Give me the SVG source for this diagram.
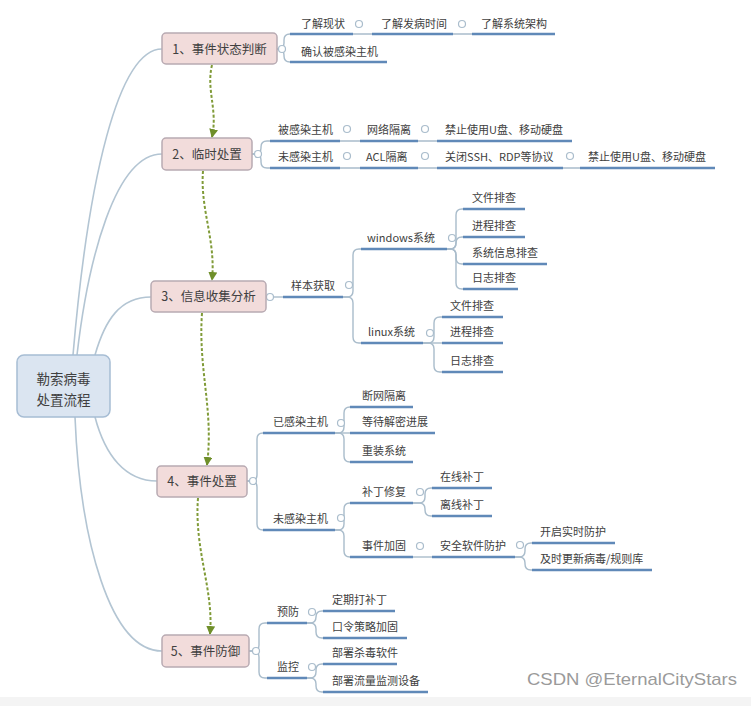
<svg xmlns="http://www.w3.org/2000/svg" width="751" height="706" viewBox="0 0 751 706">
<style>
.t{font-family:"Noto Sans CJK SC","Noto Sans",sans-serif;font-size:11px;fill:#404040}
.nt{font-family:"Noto Sans CJK SC","Noto Sans",sans-serif;font-size:12.5px;fill:#404040;text-anchor:middle}
.rt{font-family:"Noto Sans CJK SC","Noto Sans",sans-serif;font-size:13.5px;fill:#404040;text-anchor:middle}
.ul{stroke:#6089b8;stroke-width:2.4;fill:none}
.br{stroke:#a9bccb;stroke-width:1.4;fill:none}
.rc{stroke:#b3c5d3;stroke-width:1.6;fill:none}
.h{fill:#fff;stroke:#aabdcc;stroke-width:1.2}
.nd{fill:#f2dcdb;stroke:#b8aab2;stroke-width:1.5}
.dz{stroke:#809b38;stroke-width:2;stroke-dasharray:3 2;fill:none}
</style>
<defs>
<marker id="ah" markerWidth="9" markerHeight="9" refX="8" refY="4.5" orient="auto" markerUnits="userSpaceOnUse">
<path d="M0,0 L9,4.5 L0,9 z" fill="#6f8f2a"/>
</marker>
</defs>
<rect x="0" y="0" width="751" height="706" fill="#fff"/>
<rect x="0" y="697" width="751" height="9" fill="#f4f4f4"/>

<g id="connectors">
<path class="rc" d="M73 355 C88 180 118 49 162 49"/>
<path class="rc" d="M77 355 C88 260 115 154 162 154"/>
<path class="rc" d="M95 355 C105 320 120 297 151 297"/>
<path class="rc" d="M95 417 C105 455 125 481 157 481"/>
<path class="rc" d="M75 417 C80 540 110 651 162 651"/>
<path class="dz" marker-end="url(#ah)" d="M212 65 C206 90 218 110 212 137"/>
<path class="dz" marker-end="url(#ah)" d="M203 171 C200 210 216 240 212 280"/>
<path class="dz" marker-end="url(#ah)" d="M202 313 C198 370 214 410 207 465"/>
<path class="dz" marker-end="url(#ah)" d="M198 498 C194 550 214 590 210 634"/>
<path class="br" d="M277 49 H278 Q284 49 284 43 V40 Q284 34 290 34"/>
<path class="br" d="M277 49 H278 Q284 49 284 55 V56 Q284 62 290 62"/>
<path class="br" d="M353 34 H372 M453 34 H472"/>
<path class="br" d="M252 154 H255 Q261 154 261 148 V147 Q261 141 267 141 H270"/>
<path class="br" d="M252 154 H255 Q261 154 261 160 V162 Q261 168 267 168 H270"/>
<path class="br" d="M340 141 H360 M418 141 H437 M340 168 H360 M418 168 H437 M563 168 H580"/>
<path class="br" d="M266 297 H283"/>
<path class="br" d="M343 297 H347 Q353 297 353 291 V255 Q353 249 359 249 H361"/>
<path class="br" d="M343 297 H347 Q353 297 353 303 V337 Q353 343 359 343 H361"/>
<path class="br" d="M447 249 H450 Q456 249 456 243 V215 Q456 209 462 209 H463"/>
<path class="br" d="M447 249 H450 Q456 249 456 243 Q456 237 462 237 H463"/>
<path class="br" d="M447 249 H450 Q456 249 456 255 V258 Q456 264 462 264 H463"/>
<path class="br" d="M447 249 H450 Q456 249 456 255 V283 Q456 289 462 289 H463"/>
<path class="br" d="M423 343 H428 Q434 343 434 337 V323 Q434 317 440 317 H442"/>
<path class="br" d="M423 343 H442"/>
<path class="br" d="M423 343 H428 Q434 343 434 349 V366 Q434 372 440 372 H442"/>
<path class="br" d="M247 481 H251 Q257 481 257 475 V439 Q257 433 263 433"/>
<path class="br" d="M247 481 H251 Q257 481 257 487 V524 Q257 530 263 530"/>
<path class="br" d="M335 433 H338 Q344 433 344 427 V413 Q344 407 350 407"/>
<path class="br" d="M335 433 H350"/>
<path class="br" d="M335 433 H338 Q344 433 344 439 V456 Q344 462 350 462"/>
<path class="br" d="M335 530 H338 Q344 530 344 524 V509 Q344 503 350 503"/>
<path class="br" d="M335 530 H338 Q344 530 344 536 V551 Q344 557 350 557"/>
<path class="br" d="M413 503 H419 Q425 503 425 497 V494 Q425 488 431 488 H432"/>
<path class="br" d="M413 503 H419 Q425 503 425 509 V510 Q425 516 431 516 H432"/>
<path class="br" d="M413 557 H432"/>
<path class="br" d="M515 557 H519 Q525 557 525 551 V549 Q525 543 531 543 H532"/>
<path class="br" d="M515 557 H519 Q525 557 525 563 V564 Q525 570 531 570 H532"/>
<path class="br" d="M249 651 H253 Q259 651 259 645 V629 Q259 623 265 623 H267"/>
<path class="br" d="M249 651 H253 Q259 651 259 657 V672 Q259 678 265 678 H267"/>
<path class="br" d="M307 623 H310 Q316 623 316 617 Q316 611 322 611 H323"/>
<path class="br" d="M307 623 H310 Q316 623 316 629 V632 Q316 638 322 638 H323"/>
<path class="br" d="M307 678 H310 Q316 678 316 672 V670 Q316 664 322 664 H323"/>
<path class="br" d="M307 678 H310 Q316 678 316 684 V686 Q316 692 322 692 H323"/>
<circle class="h" cx="282" cy="49" r="3.5"/>
<circle class="h" cx="359" cy="24" r="3.5"/>
<circle class="h" cx="462" cy="24" r="3.5"/>
<circle class="h" cx="258" cy="154" r="3.5"/>
<circle class="h" cx="347" cy="129" r="3.5"/>
<circle class="h" cx="425" cy="129" r="3.5"/>
<circle class="h" cx="347" cy="156" r="3.5"/>
<circle class="h" cx="425" cy="156" r="3.5"/>
<circle class="h" cx="570" cy="156" r="3.5"/>
<circle class="h" cx="270" cy="297" r="3.5"/>
<circle class="h" cx="349" cy="285" r="3.5"/>
<circle class="h" cx="452" cy="238" r="3.5"/>
<circle class="h" cx="430" cy="333" r="3.5"/>
<circle class="h" cx="253" cy="481" r="3.5"/>
<circle class="h" cx="341" cy="423" r="3.5"/>
<circle class="h" cx="341" cy="518" r="3.5"/>
<circle class="h" cx="420" cy="492" r="3.5"/>
<circle class="h" cx="420" cy="546" r="3.5"/>
<circle class="h" cx="520" cy="545" r="3.5"/>
<circle class="h" cx="256" cy="651" r="3.5"/>
<circle class="h" cx="312" cy="612" r="3.5"/>
<circle class="h" cx="312" cy="667" r="3.5"/>
</g>

<g id="root">
<rect x="17" y="355" width="93" height="62" rx="7" fill="#dbe5f1" stroke="#a7bdd4" stroke-width="1.5"/>
<text class="rt" x="63.5" y="384">勒索病毒</text>
<text class="rt" x="63.5" y="405">处置流程</text>
</g>

<g id="n1"><rect class="nd" x="162" y="33" width="115" height="31" rx="4"/><text class="nt" x="219.5" y="53.5">1、事件状态判断</text></g>
<g id="n2"><rect class="nd" x="162" y="138" width="90" height="32" rx="4"/><text class="nt" x="207" y="158.5">2、临时处置</text></g>
<g id="n3"><rect class="nd" x="151" y="281" width="115" height="31" rx="4"/><text class="nt" x="208.5" y="301">3、信息收集分析</text></g>
<g id="n4"><rect class="nd" x="157" y="466" width="90" height="31" rx="4"/><text class="nt" x="202" y="486">4、事件处置</text></g>
<g id="n5"><rect class="nd" x="162" y="635" width="87" height="32" rx="4"/><text class="nt" x="205.5" y="655.5">5、事件防御</text></g>

<g id="n1-children">
<g id="n1a"><text class="t" x="301" y="28">了解现状</text><path class="ul" d="M290 34 H353"/></g>
<g id="n1b"><text class="t" x="381" y="28">了解发病时间</text><path class="ul" d="M372 34 H453"/></g>
<g id="n1c"><text class="t" x="481" y="28">了解系统架构</text><path class="ul" d="M472 34 H555"/></g>
<g id="n1d"><text class="t" x="301" y="56">确认被感染主机</text><path class="ul" d="M290 62 H387"/></g>
</g>

<g id="n2-children">
<g id="n2a"><text class="t" x="278" y="134">被感染主机</text><path class="ul" d="M270 141 H340"/></g>
<g id="n2b"><text class="t" x="367" y="134">网络隔离</text><path class="ul" d="M360 141 H418"/></g>
<g id="n2c"><text class="t" x="445" y="134">禁止使用U盘、移动硬盘</text><path class="ul" d="M437 141 H572"/></g>
<g id="n2d"><text class="t" x="278" y="161">未感染主机</text><path class="ul" d="M270 168 H340"/></g>
<g id="n2e"><text class="t" x="366" y="161">ACL隔离</text><path class="ul" d="M360 168 H418"/></g>
<g id="n2f"><text class="t" x="445" y="161">关闭SSH、RDP等协议</text><path class="ul" d="M437 168 H563"/></g>
<g id="n2g"><text class="t" x="588" y="161">禁止使用U盘、移动硬盘</text><path class="ul" d="M580 168 H715"/></g>
</g>

<g id="n3-children">
<g id="n3a"><text class="t" x="291" y="290">样本获取</text><path class="ul" d="M283 297 H343"/></g>
<g id="n3b"><text class="t" x="367" y="242">windows系统</text><path class="ul" d="M361 249 H447"/></g>
<g id="n3b1"><text class="t" x="472" y="202">文件排查</text><path class="ul" d="M463 209 H525"/></g>
<g id="n3b2"><text class="t" x="472" y="230">进程排查</text><path class="ul" d="M463 237 H525"/></g>
<g id="n3b3"><text class="t" x="472" y="257">系统信息排查</text><path class="ul" d="M463 264 H547"/></g>
<g id="n3b4"><text class="t" x="472" y="282">日志排查</text><path class="ul" d="M463 289 H518"/></g>
<g id="n3c"><text class="t" x="368" y="336">linux系统</text><path class="ul" d="M361 343 H423"/></g>
<g id="n3c1"><text class="t" x="450" y="310">文件排查</text><path class="ul" d="M442 317 H503"/></g>
<g id="n3c2"><text class="t" x="450" y="336">进程排查</text><path class="ul" d="M442 343 H503"/></g>
<g id="n3c3"><text class="t" x="450" y="365">日志排查</text><path class="ul" d="M442 372 H503"/></g>
</g>

<g id="n4-children">
<g id="n4a"><text class="t" x="273" y="426">已感染主机</text><path class="ul" d="M263 433 H335"/></g>
<g id="n4a1"><text class="t" x="362" y="400">断网隔离</text><path class="ul" d="M350 407 H413"/></g>
<g id="n4a2"><text class="t" x="362" y="426">等待解密进展</text><path class="ul" d="M350 433 H435"/></g>
<g id="n4a3"><text class="t" x="362" y="455">重装系统</text><path class="ul" d="M350 462 H413"/></g>
<g id="n4b"><text class="t" x="273" y="523">未感染主机</text><path class="ul" d="M263 530 H335"/></g>
<g id="n4b1"><text class="t" x="362" y="496">补丁修复</text><path class="ul" d="M350 503 H413"/></g>
<g id="n4b1a"><text class="t" x="440" y="481">在线补丁</text><path class="ul" d="M432 488 H492"/></g>
<g id="n4b1b"><text class="t" x="440" y="509">离线补丁</text><path class="ul" d="M432 516 H492"/></g>
<g id="n4b2"><text class="t" x="362" y="550">事件加固</text><path class="ul" d="M350 557 H413"/></g>
<g id="n4b2a"><text class="t" x="440" y="550">安全软件防护</text><path class="ul" d="M432 557 H515"/></g>
<g id="n4b2a1"><text class="t" x="540" y="536">开启实时防护</text><path class="ul" d="M532 543 H615"/></g>
<g id="n4b2a2"><text class="t" x="540" y="563">及时更新病毒/规则库</text><path class="ul" d="M532 570 H652"/></g>
</g>

<g id="n5-children">
<g id="n5a"><text class="t" x="277" y="616">预防</text><path class="ul" d="M267 623 H307"/></g>
<g id="n5a1"><text class="t" x="332" y="604">定期打补丁</text><path class="ul" d="M323 611 H395"/></g>
<g id="n5a2"><text class="t" x="332" y="631">口令策略加固</text><path class="ul" d="M323 638 H407"/></g>
<g id="n5b"><text class="t" x="277" y="671">监控</text><path class="ul" d="M267 678 H307"/></g>
<g id="n5b1"><text class="t" x="332" y="657">部署杀毒软件</text><path class="ul" d="M323 664 H397"/></g>
<g id="n5b2"><text class="t" x="332" y="685">部署流量监测设备</text><path class="ul" d="M323 692 H428"/></g>
</g>

<text x="527" y="685" font-family="Liberation Sans, Arial, sans-serif" font-size="17" fill="#9a9a9a" textLength="210" lengthAdjust="spacingAndGlyphs">CSDN @EternalCityStars</text>
</svg>
